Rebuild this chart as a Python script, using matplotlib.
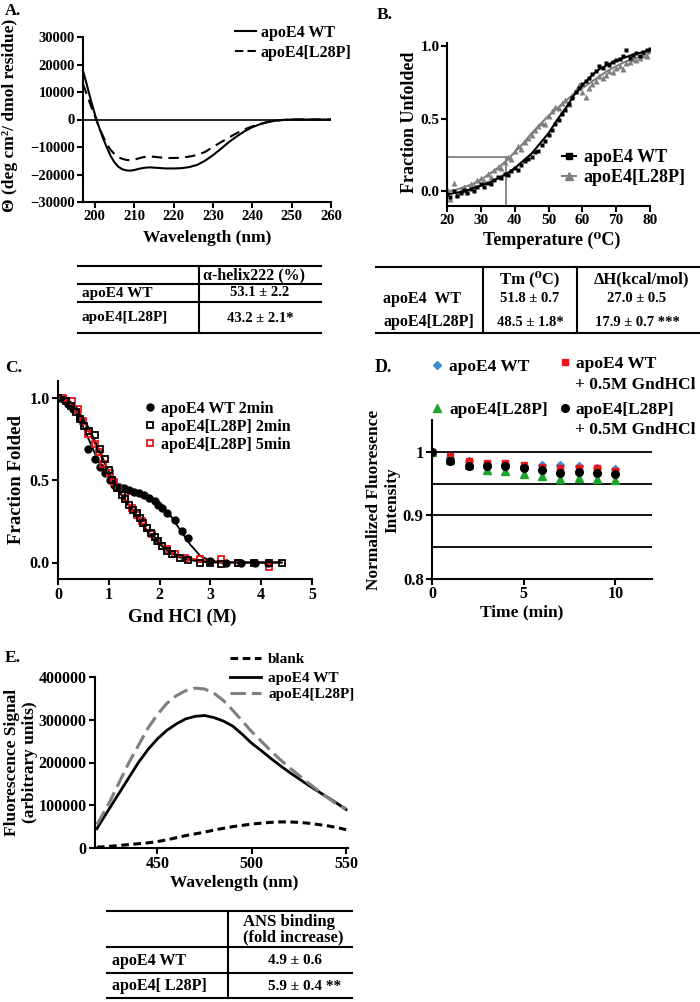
import matplotlib
matplotlib.use('Agg')
import matplotlib.pyplot as plt
from matplotlib.lines import Line2D

plt.rcParams['font.family'] = ['Liberation Serif', 'DejaVu Serif']
plt.rcParams['font.weight'] = 'bold'
plt.rcParams['axes.labelweight'] = 'bold'
plt.rcParams['axes.linewidth'] = 1.5
plt.rcParams['xtick.major.width'] = 1.5
plt.rcParams['ytick.major.width'] = 1.5
plt.rcParams['xtick.major.size'] = 4
plt.rcParams['ytick.major.size'] = 4

# --- A. CD spectra
cd_wl = [197, 198, 199, 200, 201, 202, 203, 204, 205, 206, 207, 208, 209, 210, 211, 212, 213, 214,
         216, 218, 220, 222, 224, 226, 228, 230, 232, 234, 236, 238, 240, 242, 244, 246, 248, 250, 255, 260]
cd_wt = [17700, 12500, 7000, 2000, -2500, -6500, -10000, -13200, -15600, -17200, -18100, -18500, -18600,
         -18400, -18000, -17700, -17500, -17400, -17600, -17800, -17800, -17700, -17300, -16500, -15000,
         -13000, -10700, -8300, -6200, -4300, -2800, -1700, -900, -400, -150, 0, 0, 0]
cd_mut = [12900, 9000, 5000, 1200, -2500, -5800, -8800, -11000, -12600, -13700, -14300, -14700, -14800,
          -14600, -14200, -13800, -13500, -13400, -13700, -14000, -14000, -13900, -13500, -12900, -11800,
          -10000, -8300, -6600, -5000, -3600, -2500, -1600, -900, -400, -150, 0, 0, 0]
table_a_rows = ['apoE4 WT', 'apoE4[L28P]']
table_a_vals = ['53.1 ± 2.2', '43.2 ± 2.1*']

# --- B. thermal denaturation
b_temp = list(range(20, 81))
b_wt = [-0.02, -0.04, 0.00, -0.03, -0.01, 0.01, -0.01, 0.02, 0.00, 0.03, 0.05, 0.03, 0.06, 0.05, 0.08,
        0.10, 0.09, 0.12, 0.11, 0.14, 0.16, 0.15, 0.18, 0.21, 0.22, 0.24, 0.27, 0.28, 0.32, 0.35, 0.39,
        0.42, 0.46, 0.49, 0.53, 0.56, 0.60, 0.64, 0.68, 0.71, 0.74, 0.76, 0.78, 0.81, 0.83, 0.86, 0.85,
        0.88, 0.87, 0.89, 0.90, 0.91, 0.93, 0.97, 0.92, 0.94, 0.95, 0.93, 0.96, 0.97, 0.98]
b_mut = [0.02, -0.05, 0.06, -0.02, 0.01, 0.03, 0.00, 0.05, 0.04, 0.08, 0.09, 0.07, 0.12, 0.10, 0.15,
         0.17, 0.16, 0.20, 0.24, 0.22, 0.28, 0.31, 0.29, 0.34, 0.37, 0.39, 0.42, 0.45, 0.47, 0.46, 0.52,
         0.55, 0.58, 0.57, 0.61, 0.63, 0.60, 0.66, 0.70, 0.73, 0.68, 0.65, 0.71, 0.74, 0.76, 0.79, 0.78,
         0.80, 0.83, 0.82, 0.85, 0.86, 0.84, 0.88, 0.89, 0.91, 0.90, 0.92, 0.94, 0.93, 0.97]
b_fit_t = [20, 22.5, 25, 27.5, 30, 32.5, 35, 37.5, 40, 42.5, 45, 47.5, 50, 52.5, 55, 57.5, 60, 62.5, 65,
           67.5, 70, 72.5, 75, 77.5, 80]
b_wt_fit = [-0.02, -0.01, 0.0, 0.02, 0.04, 0.06, 0.09, 0.12, 0.16, 0.21, 0.26, 0.33, 0.40, 0.49, 0.57,
            0.66, 0.73, 0.79, 0.84, 0.87, 0.90, 0.92, 0.94, 0.955, 0.97]
b_mut_fit = [0.0, 0.01, 0.03, 0.05, 0.08, 0.12, 0.16, 0.21, 0.27, 0.33, 0.40, 0.46, 0.52, 0.57, 0.62,
             0.67, 0.71, 0.75, 0.79, 0.83, 0.86, 0.89, 0.91, 0.93, 0.95]
b_tm_guide = 37.5
b_frac_guide = 0.235
table_b_rows = ['apoE4  WT', 'apoE4[L28P]']
table_b_tm = ['51.8 ± 0.7', '48.5 ± 1.8*']
table_b_dh = ['27.0 ± 0.5', '17.9 ± 0.7 ***']

# --- C. GndHCl denaturation
c_wt_x = [0.0, 0.1, 0.2, 0.3, 0.43, 0.6, 0.73, 0.83, 0.93, 1.02, 1.1, 1.2, 1.3, 1.4, 1.5, 1.6, 1.7,
          1.8, 1.9, 1.97, 2.05, 2.14, 2.3, 2.44, 2.56, 3.0, 3.3, 3.6, 3.88, 4.14]
c_wt_y = [1.0, 0.99, 0.96, 0.93, 0.87, 0.69, 0.63, 0.58, 0.54, 0.50, 0.47, 0.46, 0.45, 0.44, 0.43, 0.42,
          0.41, 0.39, 0.37, 0.35, 0.33, 0.30, 0.26, 0.19, 0.15, 0.01, 0.0, 0.0, 0.0, 0.0]
c_m2_x = [0.0, 0.15, 0.25, 0.35, 0.43, 0.52, 0.62, 0.73, 0.83, 0.92, 1.0, 1.06, 1.16, 1.25, 1.32, 1.4,
          1.47, 1.55, 1.62, 1.68, 1.75, 1.83, 1.9, 1.97, 2.05, 2.14, 2.25, 2.4, 2.55, 2.8, 3.0, 3.2,
          3.55, 3.85, 4.15, 4.4]
c_m2_y = [1.0, 0.98, 0.95, 0.91, 0.87, 0.83, 0.80, 0.77, 0.69, 0.63, 0.56, 0.50, 0.45, 0.41, 0.385,
          0.35, 0.32, 0.30, 0.27, 0.24, 0.21, 0.18, 0.155, 0.13, 0.10, 0.07, 0.05, 0.03, 0.015, 0.0, 0.0,
          -0.01, 0.0, 0.0, 0.0, 0.0]
c_m5_x = [0.0, 0.1, 0.27, 0.4, 0.5, 0.6, 0.73, 0.8, 0.89, 1.02, 1.1, 1.18, 1.32, 1.45, 1.55, 1.65, 1.75,
          1.85, 1.95, 2.05, 2.15, 2.3, 2.5, 2.8, 3.2, 3.55, 4.15]
c_m5_y = [1.0, 1.0, 0.98, 0.93, 0.86, 0.78, 0.72, 0.67, 0.60, 0.54, 0.49, 0.45, 0.39, 0.33, 0.29, 0.25,
          0.21, 0.17, 0.13, 0.10, 0.08, 0.05, 0.03, 0.02, 0.02, 0.0, -0.03]
c_fit_x = [0.0, 0.2, 0.4, 0.6, 0.8, 1.0, 1.2, 1.4, 1.6, 1.8, 2.0, 2.2, 2.4, 2.6, 2.8, 3.0, 3.2, 3.6, 4.0, 4.4]
c_wt_fit = [1.0, 0.97, 0.89, 0.75, 0.61, 0.52, 0.47, 0.445, 0.425, 0.40, 0.36, 0.29, 0.20, 0.11, 0.04,
            0.01, 0.0, 0.0, 0.0, 0.0]
c_m2_fit = [1.0, 0.97, 0.91, 0.82, 0.69, 0.55, 0.43, 0.34, 0.25, 0.17, 0.11, 0.06, 0.03, 0.015, 0.005,
            0.0, 0.0, 0.0, 0.0, 0.0]
c_m5_fit = [1.0, 0.98, 0.93, 0.80, 0.67, 0.55, 0.44, 0.35, 0.26, 0.18, 0.12, 0.07, 0.04, 0.025, 0.015,
            0.01, 0.005, 0.0, 0.0, 0.0]

# --- D. fluorescence over time
d_time = [0, 1, 2, 3, 4, 5, 6, 7, 8, 9, 10]
d_wt = [1.0, 0.990, 0.985, 0.981, 0.981, 0.978, 0.979, 0.979, 0.977, 0.975, 0.973]
d_wt_gnd = [1.0, 0.993, 0.986, 0.983, 0.983, 0.979, 0.976, 0.975, 0.974, 0.974, 0.970]
d_mut = [1.0, 0.987, 0.980, 0.972, 0.970, 0.965, 0.962, 0.958, 0.959, 0.958, 0.955]
d_mut_gnd = [1.0, 0.986, 0.977, 0.977, 0.977, 0.974, 0.971, 0.967, 0.968, 0.966, 0.965]
d_yticks = [0.8, 0.9, 1.0]
d_ytick_labels = ['0.8', '0.9', '1']
d_grid = [0.85, 0.95]

# --- E. ANS fluorescence
e_wl = [418, 420, 425, 430, 435, 440, 445, 450, 455, 460, 465, 470, 475, 480, 485, 490, 495, 500, 505,
        510, 515, 520, 525, 530, 535, 540, 545, 550]
e_blank = [2000, 2500, 4000, 6000, 8000, 10000, 12000, 15000, 19000, 24000, 29000, 33000, 37000, 42000,
           46000, 50000, 53000, 56000, 58000, 60000, 61000, 61000, 60000, 58000, 55000, 52000, 48000, 43000]
e_wt = [45000, 60000, 95000, 130000, 165000, 200000, 230000, 255000, 275000, 290000, 302000, 308000,
        310000, 305000, 297000, 285000, 266000, 245000, 228000, 210000, 193000, 177000, 162000, 147000,
        133000, 119000, 105000, 90000]
e_mut = [55000, 70000, 110000, 155000, 200000, 240000, 280000, 312000, 338000, 356000, 368000, 374000,
         372000, 362000, 345000, 322000, 297000, 272000, 250000, 228000, 207000, 188000, 170000, 152000,
         135000, 118000, 103000, 92000]
table_e_rows = ['apoE4 WT', 'apoE4[ L28P]']
table_e_vals = ['4.9 ± 0.6', '5.9 ± 0.4 **']

W, H = 700, 1002
fig = plt.figure(figsize=(7, 10.02), dpi=100)

# overlay in pixel units for tables and panel letters
ov = fig.add_axes([0, 0, 1, 1])
ov.set_xlim(0, W)
ov.set_ylim(H, 0)
ov.axis('off')


def box(l, t, r, b):
    ax = fig.add_axes([l / W, 1 - b / H, (r - l) / W, (b - t) / H])
    ax.patch.set_alpha(0)
    ax.spines['top'].set_visible(False)
    ax.spines['right'].set_visible(False)
    return ax


def labels(ax, xl, xpos, yl, ypos, size):
    ax.set_xlabel(xl, fontsize=size)
    ax.xaxis.set_label_coords(xpos[0] / W, 1 - xpos[1] / H, transform=fig.transFigure)
    ax.set_ylabel(yl, fontsize=size, multialignment='center')
    ax.yaxis.set_label_coords(ypos[0] / W, 1 - ypos[1] / H, transform=fig.transFigure)
    ax.xaxis.label.set_va('center')
    ax.yaxis.label.set_va('center')


def key(handle, label, x, y, size, hl=1.2, pad=0.4):
    fig.legend([handle], [label], loc='center left', bbox_to_anchor=(x / W, 1 - y / H),
               prop={'size': size, 'weight': 'bold'}, frameon=False, borderpad=0,
               borderaxespad=0, handlelength=hl, handletextpad=pad)


def txt(x, y, s, size, ha='center'):
    ov.text(x, y, s, fontsize=size, fontweight='bold', ha=ha, va='center')


# ---------------- A
ax = box(83, 37, 331, 202)
ax.plot(cd_wl, cd_wt, color='k', lw=1.5)
ax.plot(cd_wl, cd_mut, color='k', lw=1.5, ls=(0, (5, 3)))
ax.axhline(0, color='k', lw=1.2)
ax.set_xlim(197, 260)
ax.set_ylim(-30000, 30000)
ax.set_xticks(range(200, 261, 10))
ax.set_yticks(range(-30000, 30001, 10000))
ax.tick_params(labelsize=10.5, pad=2)
labels(ax, 'Wavelength (nm)', (207, 238), 'Θ (deg cm²/ dmol residue)', (10, 115), 12.5)
key(Line2D([], [], color='k', lw=1.5), 'apoE4 WT', 235, 33, 11.5, hl=1.3, pad=0.3)
key(Line2D([], [], color='k', lw=1.5, ls=(0, (4, 2))), 'apoE4[L28P]', 235, 53, 11.5, hl=1.3, pad=0.3)
txt(5, 11, 'A.', 12, ha='left')

# table A
for y in [266, 284, 302, 333]:
    ov.plot([78, 321], [y, y], color='k', lw=1.5)
ov.plot([199, 199], [266, 333], color='k', lw=1.5)
txt(203, 275, 'α-helix222 (%)', 11.5, ha='left')
for row, val, y in zip(table_a_rows, table_a_vals, [293, 318]):
    txt(82, y, row, 11, ha='left')
    txt(260, y, val, 10.5)

# ---------------- B
ax = box(447, 43, 650, 206)
ax.plot([20, b_tm_guide], [b_frac_guide, b_frac_guide], color='#777777', lw=1.2)
ax.plot([b_tm_guide, b_tm_guide], [-0.1, b_frac_guide], color='#777777', lw=1.2)
ax.plot(b_temp, b_mut, ls='none', marker='^', ms=4, color='#7f7f7f', mec='none')
ax.plot(b_fit_t, b_mut_fit, color='#7f7f7f', lw=1.5)
ax.plot(b_temp, b_wt, ls='none', marker='s', ms=2.8, color='k', mec='none')
ax.plot(b_fit_t, b_wt_fit, color='k', lw=1.5)
ax.set_xlim(20, 80)
ax.set_ylim(-0.1, 1.02)
ax.set_xticks(range(20, 81, 10))
ax.set_yticks([0.0, 0.5, 1.0])
ax.set_yticklabels(['0.0', '0.5', '1.0'])
ax.tick_params(labelsize=11, pad=1.5)
labels(ax, 'Temperature (⁰C)', (552, 240), 'Fraction Unfolded', (410, 122), 13)
key(Line2D([], [], color='k', marker='s', ms=4, lw=1.5), 'apoE4 WT', 562, 158, 13, hl=0.8, pad=0.4)
key(Line2D([], [], color='#7f7f7f', marker='^', ms=6, lw=1.5), 'apoE4[L28P]', 562, 178, 13, hl=0.8, pad=0.4)
txt(377, 15, 'B.', 12.5, ha='left')

# table B
for y in [267, 333]:
    ov.plot([376, 700], [y, y], color='k', lw=1.5)
for x in [483, 577]:
    ov.plot([x, x], [267, 333], color='k', lw=1.5)
txt(530, 279, 'Tm (⁰C)', 12)
txt(641, 279, 'ΔH(kcal/mol)', 12)
for row, tm, dh, y in zip(table_b_rows, table_b_tm, table_b_dh, [299, 322]):
    txt(383, y, row, 11.5, ha='left')
    txt(530, y, tm, 10.5)
    txt(637, y, dh, 10.5)

# ---------------- C
ax = box(58, 381, 312, 579)
ax.plot(c_fit_x, c_m5_fit, color='#e8151b', lw=1.3)
ax.plot(c_fit_x, c_m2_fit, color='k', lw=1.3)
ax.plot(c_fit_x, c_wt_fit, color='k', lw=1.3)
ax.plot(c_wt_x, c_wt_y, ls='none', marker='o', ms=5, color='k')
ax.plot(c_m5_x, c_m5_y, ls='none', marker='s', ms=4.5, mfc='none', mec='#e8151b', mew=1.3)
ax.plot(c_m2_x, c_m2_y, ls='none', marker='s', ms=4.5, mfc='none', mec='k', mew=1.3)
ax.set_xlim(0, 5)
ax.set_ylim(-0.1, 1.1)
ax.set_xticks(range(0, 6))
ax.set_yticks([0.0, 0.5, 1.0])
ax.set_yticklabels(['0.0', '0.5', '1.0'])
ax.tick_params(labelsize=11.5, pad=2)
labels(ax, 'Gnd HCl (M)', (182, 617), 'Fraction Folded', (17, 480), 13.5)
key(Line2D([], [], ls='none', marker='o', ms=5, color='k'), 'apoE4 WT 2min', 145, 409, 11.5, hl=0.6)
key(Line2D([], [], ls='none', marker='s', ms=4.5, mfc='none', mec='k', mew=1.3), 'apoE4[L28P] 2min', 145, 427, 11.5, hl=0.6)
key(Line2D([], [], ls='none', marker='s', ms=4.5, mfc='none', mec='#e8151b', mew=1.3), 'apoE4[L28P] 5min', 145, 445, 11.5, hl=0.6)
txt(5, 368, 'C.', 12.5, ha='left')

# ---------------- D
ax = box(432, 420, 652, 579)
for lvl in d_grid + d_yticks:
    ax.axhline(lvl, color='k', lw=1.3)
ax.plot(d_time, d_wt, ls='none', marker='D', ms=4.5, color='#3b8fd1')
ax.plot(d_time, d_wt_gnd, ls='none', marker='s', ms=4.5, color='#e8151b')
ax.plot(d_time, d_mut, ls='none', marker='^', ms=5.5, color='#1fa32a')
ax.plot(d_time, d_mut_gnd, ls='none', marker='o', ms=5.5, color='k')
ax.set_xlim(0, 12)
ax.set_ylim(0.8, 1.05)
ax.set_xticks([0, 5, 10])
ax.set_yticks(d_yticks)
ax.set_yticklabels(d_ytick_labels)
ax.tick_params(labelsize=12, pad=2)
ax.tick_params(axis='x', labelsize=11.5, pad=1)
labels(ax, 'Time (min)', (522, 612), 'Normalized Fluoresence\nIntensity', (383, 500), 12.5)
key(Line2D([], [], ls='none', marker='D', ms=4.5, color='#3b8fd1'), 'apoE4 WT', 432, 367, 12.5, hl=0.6)
key(Line2D([], [], ls='none', marker='^', ms=5.5, color='#1fa32a'), 'apoE4[L28P]', 432, 410, 12.5, hl=0.6)
key(Line2D([], [], ls='none', marker='s', ms=4.5, color='#e8151b'), 'apoE4 WT', 560, 364, 12.5, hl=0.6, pad=0.3)
key(Line2D([], [], ls='none', marker='o', ms=5.5, color='k'), 'apoE4[L28P]', 560, 410, 12.5, hl=0.6, pad=0.3)
txt(575, 385, '+ 0.5M GndHCl', 12.5, ha='left')
txt(575, 430, '+ 0.5M GndHCl', 12.5, ha='left')
txt(375, 367, 'D.', 13, ha='left')

# ---------------- E
ax = box(95, 677, 348, 848)
ax.plot(e_wl, e_blank, color='k', lw=2.2, ls=(0, (2.5, 1.5)))
ax.plot(e_wl, e_wt, color='k', lw=2.0)
ax.plot(e_wl, e_mut, color='#7f7f7f', lw=2.2, ls=(0, (5, 2)))
ax.set_xlim(417, 551)
ax.set_ylim(0, 400000)
ax.set_xticks([450, 500, 550])
ax.set_yticks(range(0, 400001, 100000))
ax.tick_params(labelsize=11.5, pad=2)
labels(ax, 'Wavelength (nm)', (234, 883), 'Fluorescence Signal\n(arbitrary units)', (21, 762), 12.5)
key(Line2D([], [], color='k', lw=2.2, ls=(0, (2.5, 1.5))), 'blank', 230, 659, 11, hl=2.0, pad=0.5)
key(Line2D([], [], color='k', lw=2.0), 'apoE4 WT', 230, 678, 11, hl=2.0, pad=0.5)
key(Line2D([], [], color='#7f7f7f', lw=2.2, ls=(0, (5, 2))), 'apoE4[L28P]', 230, 694, 11, hl=2.0, pad=0.5)
txt(5, 658, 'E.', 12.5, ha='left')

# table E
for y in [911, 947, 973, 998]:
    ov.plot([107, 352], [y, y], color='k', lw=1.5)
ov.plot([228, 228], [911, 998], color='k', lw=1.5)
txt(243, 922, 'ANS binding', 12, ha='left')
txt(243, 937, '(fold increase)', 12, ha='left')
for row, val, y in zip(table_e_rows, table_e_vals, [961, 986]):
    txt(112, y, row, 11.5, ha='left')
    txt(268, y, val, 11, ha='left')

fig.savefig('out.png', dpi=100)
